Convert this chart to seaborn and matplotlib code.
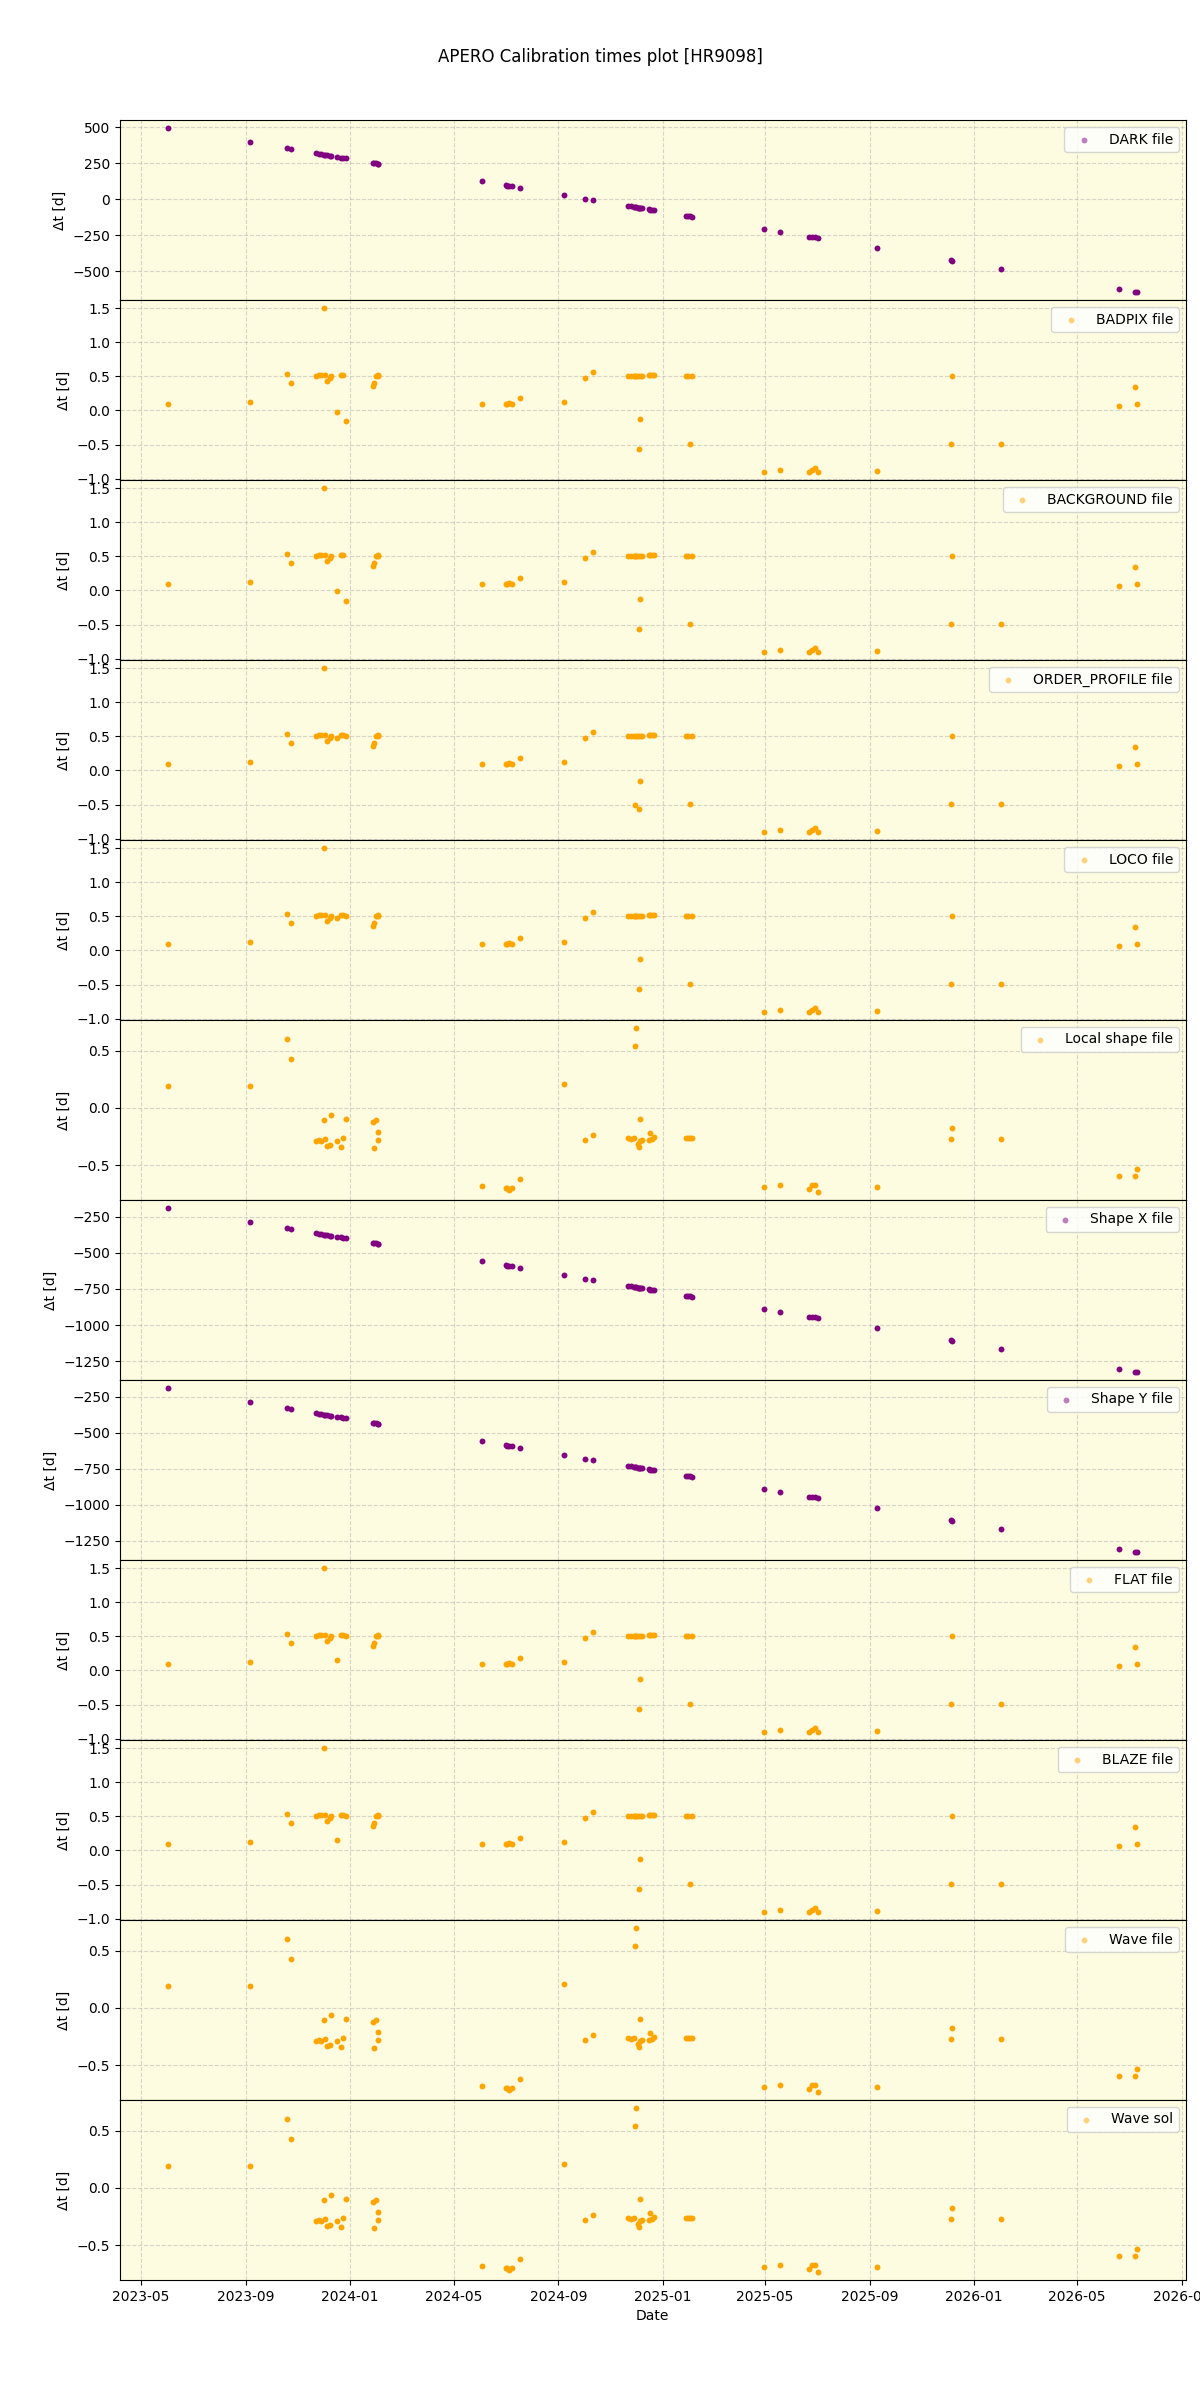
import pandas as pd
import matplotlib
matplotlib.use("Agg")
import matplotlib.pyplot as plt
import seaborn as sns

# --- DATA (observation dates and time offset to the calibration used) ---
obs_dates = [
    "2023-06-02", "2023-09-05", "2023-10-19", "2023-10-24",
    "2023-11-22", "2023-11-25", "2023-11-28", "2023-12-01", "2023-12-03", "2023-12-05",
    "2023-12-08", "2023-12-10", "2023-12-17", "2023-12-21", "2023-12-23", "2023-12-27",
    "2024-01-28", "2024-01-29", "2024-01-31", "2024-02-02", "2024-02-03",
    "2024-06-03", "2024-07-01", "2024-07-03", "2024-07-05", "2024-07-08", "2024-07-18",
    "2024-09-07", "2024-10-02", "2024-10-12",
    "2024-11-22", "2024-11-25", "2024-11-28", "2024-11-30", "2024-12-01", "2024-12-03",
    "2024-12-04", "2024-12-05", "2024-12-06", "2024-12-08", "2024-12-16", "2024-12-17",
    "2024-12-19", "2024-12-22",
    "2025-01-28", "2025-01-31", "2025-02-02", "2025-02-04",
    "2025-04-30", "2025-05-19", "2025-06-22", "2025-06-25", "2025-06-28", "2025-07-02",
    "2025-09-09", "2025-12-05", "2025-12-06", "2026-02-01",
    "2026-06-20", "2026-07-09", "2026-07-11",
]

dark_dt = [
    493, 396, 354, 347,
    319, 316, 313, 310, 308, 305, 302, 300, 293, 289, 287, 284,
    252, 251, 249, 247, 246,
    125, 97, 95, 93, 90, 80,
    29, 4, -6,
    -47, -50, -53, -55, -56, -58, -59, -60, -61, -63, -71, -72, -74, -77,
    -114, -117, -119, -121,
    -206, -225, -259, -262, -265, -269,
    -338, -425, -426, -483,
    -622, -641, -643,
]

shape_x_dt = [
    -189, -285, -329, -334,
    -363, -366, -369, -372, -374, -376, -379, -381, -388, -392, -394, -398,
    -430, -431, -433, -435, -436,
    -557, -585, -587, -589, -592, -602,
    -653, -678, -688,
    -729, -732, -735, -737, -738, -740, -741, -742, -743, -745, -753, -754, -756, -759,
    -796, -799, -801, -803,
    -888, -907, -941, -944, -947, -951,
    -1020, -1107, -1108, -1165,
    -1304, -1323, -1325,
]

shape_y_dt = [
    -190, -286, -330, -335,
    -364, -367, -370, -373, -375, -377, -380, -382, -389, -393, -395, -399,
    -431, -432, -434, -436, -437,
    -558, -586, -588, -590, -593, -603,
    -654, -679, -689,
    -730, -733, -736, -738, -739, -741, -742, -743, -744, -746, -754, -755, -757, -760,
    -797, -800, -802, -804,
    -889, -908, -942, -945, -948, -952,
    -1021, -1108, -1109, -1166,
    -1305, -1324, -1326,
]

badpix_dt = [
    0.10, 0.13, 0.54, 0.41,
    0.51, 0.52, 0.52, 1.50, 0.52, 0.43, 0.48, 0.50, -0.02, 0.52, 0.52, -0.16,
    0.36, 0.41, 0.50, 0.52, 0.51,
    0.10, 0.10, 0.10, 0.11, 0.09, 0.19,
    0.13, 0.47, 0.56,
    0.51, 0.51, 0.51, 0.50, 0.51, 0.51, -0.57, -0.13, 0.51, 0.51, 0.52, 0.52, 0.52, 0.52,
    0.51, 0.51, -0.49, 0.51,
    -0.90, -0.87, -0.90, -0.88, -0.85, -0.90,
    -0.89, -0.49, 0.51, -0.49,
    0.07, 0.35, 0.10,
]

background_dt = [
    0.10, 0.13, 0.54, 0.41,
    0.51, 0.52, 0.52, 1.50, 0.52, 0.43, 0.48, 0.50, -0.01, 0.52, 0.52, -0.15,
    0.36, 0.41, 0.50, 0.52, 0.51,
    0.10, 0.10, 0.10, 0.11, 0.09, 0.19,
    0.13, 0.47, 0.56,
    0.51, 0.51, 0.51, 0.50, 0.51, 0.51, -0.57, -0.13, 0.51, 0.51, 0.52, 0.52, 0.52, 0.52,
    0.51, 0.51, -0.49, 0.51,
    -0.90, -0.87, -0.90, -0.88, -0.85, -0.90,
    -0.89, -0.49, 0.51, -0.49,
    0.07, 0.35, 0.10,
]

order_profile_dt = [
    0.10, 0.13, 0.54, 0.41,
    0.51, 0.52, 0.52, 1.50, 0.52, 0.43, 0.48, 0.50, 0.47, 0.52, 0.52, 0.50,
    0.36, 0.41, 0.50, 0.52, 0.51,
    0.10, 0.10, 0.10, 0.11, 0.09, 0.19,
    0.13, 0.47, 0.56,
    0.51, 0.51, 0.51, -0.50, 0.51, 0.51, -0.57, -0.15, 0.51, 0.51, 0.52, 0.52, 0.52, 0.52,
    0.51, 0.51, -0.49, 0.51,
    -0.90, -0.87, -0.90, -0.88, -0.85, -0.90,
    -0.89, -0.49, 0.51, -0.49,
    0.07, 0.35, 0.10,
]

loco_dt = [
    0.10, 0.13, 0.54, 0.41,
    0.51, 0.52, 0.52, 1.50, 0.52, 0.43, 0.48, 0.50, 0.47, 0.52, 0.52, 0.50,
    0.36, 0.41, 0.50, 0.52, 0.51,
    0.10, 0.10, 0.10, 0.11, 0.09, 0.19,
    0.13, 0.47, 0.56,
    0.51, 0.51, 0.51, 0.50, 0.51, 0.51, -0.57, -0.13, 0.51, 0.51, 0.52, 0.52, 0.52, 0.52,
    0.51, 0.51, -0.49, 0.51,
    -0.90, -0.87, -0.90, -0.88, -0.85, -0.90,
    -0.89, -0.49, 0.51, -0.49,
    0.07, 0.35, 0.10,
]

flat_dt = [
    0.10, 0.13, 0.54, 0.41,
    0.51, 0.52, 0.52, 1.50, 0.52, 0.43, 0.48, 0.50, 0.15, 0.52, 0.52, 0.50,
    0.36, 0.41, 0.50, 0.52, 0.51,
    0.10, 0.10, 0.10, 0.11, 0.09, 0.19,
    0.13, 0.47, 0.56,
    0.51, 0.51, 0.51, 0.50, 0.51, 0.51, -0.57, -0.13, 0.51, 0.51, 0.52, 0.52, 0.52, 0.52,
    0.51, 0.51, -0.49, 0.51,
    -0.90, -0.87, -0.90, -0.88, -0.85, -0.90,
    -0.89, -0.49, 0.51, -0.49,
    0.07, 0.35, 0.10,
]

blaze_dt = [
    0.10, 0.13, 0.54, 0.41,
    0.51, 0.52, 0.52, 1.50, 0.52, 0.43, 0.48, 0.50, 0.15, 0.52, 0.52, 0.50,
    0.36, 0.41, 0.50, 0.52, 0.51,
    0.10, 0.10, 0.10, 0.11, 0.09, 0.19,
    0.13, 0.47, 0.56,
    0.51, 0.51, 0.51, 0.50, 0.51, 0.51, -0.57, -0.13, 0.51, 0.51, 0.52, 0.52, 0.52, 0.52,
    0.51, 0.51, -0.49, 0.51,
    -0.90, -0.87, -0.90, -0.88, -0.85, -0.90,
    -0.89, -0.49, 0.51, -0.49,
    0.07, 0.35, 0.10,
]

local_shape_dt = [
    0.19, 0.195, 0.60, 0.43,
    -0.29, -0.28, -0.285, -0.105, -0.27, -0.33, -0.32, -0.06, -0.29, -0.34, -0.26, -0.10,
    -0.12, -0.35, -0.105, -0.28, -0.21,
    -0.68, -0.70, -0.70, -0.71, -0.70, -0.62,
    0.21, -0.28, -0.235,
    -0.265, -0.27, -0.26, 0.54, 0.695, -0.31, -0.34, -0.29, -0.096, -0.28, -0.28, -0.218, -0.27, -0.253,
    -0.265, -0.26, -0.265, -0.26,
    -0.69, -0.674, -0.706, -0.674, -0.674, -0.73,
    -0.69, -0.27, -0.17, -0.27,
    -0.59, -0.59, -0.535,
]

wave_file_dt = list(local_shape_dt)
wave_sol_dt = list(local_shape_dt)

panels = [
    ("DARK file", dark_dt, "purple"),
    ("BADPIX file", badpix_dt, "orange"),
    ("BACKGROUND file", background_dt, "orange"),
    ("ORDER_PROFILE file", order_profile_dt, "orange"),
    ("LOCO file", loco_dt, "orange"),
    ("Local shape file", local_shape_dt, "orange"),
    ("Shape X file", shape_x_dt, "purple"),
    ("Shape Y file", shape_y_dt, "purple"),
    ("FLAT file", flat_dt, "orange"),
    ("BLAZE file", blaze_dt, "orange"),
    ("Wave file", wave_file_dt, "orange"),
    ("Wave sol", wave_sol_dt, "orange"),
]

# --- PLOT ---
dates = pd.to_datetime(obs_dates)

fig, axes = plt.subplots(len(panels), 1, figsize=(12, 24), dpi=100, sharex=True)
fig.subplots_adjust(left=0.1, right=0.988, top=0.95, bottom=0.05, hspace=0)

for ax, (name, values, color) in zip(axes, panels):
    df = pd.DataFrame({"date": dates, "dt": values})
    sns.scatterplot(data=df, x="date", y="dt", ax=ax, color=color, s=18,
                    linewidth=0, label=name, zorder=3)
    ax.set_facecolor("#fdfce0")
    ax.grid(True, linestyle="--", alpha=0.5)
    ax.set_ylabel("Δt [d]")
    ax.set_xlabel("")
    leg = ax.legend(loc="upper right")
    for h in leg.legend_handles:
        h.set_alpha(0.5)

axes[-1].set_xlabel("Date")
fig.suptitle("APERO Calibration times plot [HR9098]")

plt.savefig("out.png")
plt.close()
